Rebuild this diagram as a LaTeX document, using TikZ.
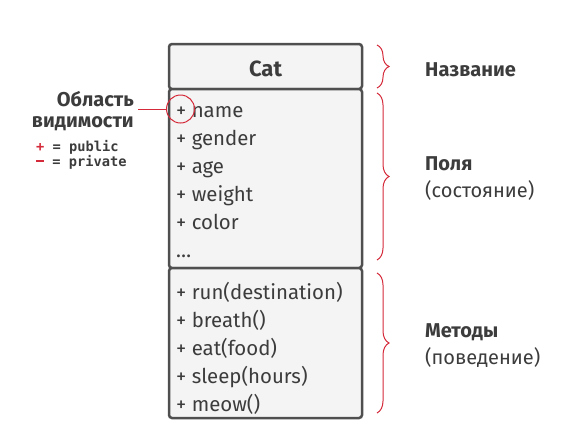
\documentclass[tikz,border=0pt]{standalone}
\usepackage{fontspec}
\setmainfont{Fira Sans}
\newfontfamily\monof{DejaVu Sans Mono}
\usetikzlibrary{decorations.pathreplacing}
\definecolor{boxline}{HTML}{4F4F4F}
\definecolor{boxfill}{HTML}{F4F4F4}
\definecolor{txt}{HTML}{3C3C3C}
\definecolor{accent}{HTML}{D42A3A}
\tikzset{
  section/.style={draw=boxline, fill=boxfill, line width=2.5pt, rounded corners=3pt},
  item/.style={anchor=base west, inner sep=0pt, text=txt, font=\fontsize{20.4}{22}\selectfont},
  label/.style={anchor=base west, inner sep=0pt, text=txt, font=\fontsize{20}{22}\selectfont},
  blabel/.style={anchor=base west, inner sep=0pt, text=txt, font=\fontsize{20}{22}\selectfont\bfseries},
  llabel/.style={anchor=base east, inner sep=0pt, text=txt, font=\fontsize{20}{22}\selectfont\bfseries},
  bracestyle/.style={draw=accent, line width=1pt, decorate, decoration={brace, amplitude=12pt, aspect=0.5}},
  mono/.style={anchor=base west, inner sep=0pt, text=txt, font=\monof\bfseries\fontsize{13.7}{15}\selectfont}
}
\begin{document}
\begin{tikzpicture}[x=1pt,y=-1pt]
\useasboundingbox (0,0) rectangle (583,437);
% class box
\draw[section] (169,44) rectangle (362,89);
\draw[section] (169,89) rectangle (362,268);
\draw[section] (169,268) rectangle (362,418);
\node[anchor=base, inner sep=0pt, text=txt, font=\fontsize{22}{24}\selectfont\bfseries] (title) at (265.5,76) {Cat};
% fields
\node[item] (f1) at (176,117) {+ name};
\node[item] (f2) at (176,145) {+ gender};
\node[item] (f3) at (176,173) {+ age};
\node[item] (f4) at (176,201) {+ weight};
\node[item] (f5) at (176,229) {+ color};
\node[item] (f6) at (176,257) {\ldots};
% methods
\node[item] (m1) at (176,299) {+ run(destination)};
\node[item] (m2) at (176,327) {+ breath()};
\node[item] (m3) at (176,355) {+ eat(food)};
\node[item] (m4) at (176,383) {+ sleep(hours)};
\node[item] (m5) at (176,411) {+ meow()};
% braces
\coordinate (b1t) at (377,45);
\coordinate (b1b) at (377,88);
\coordinate (b2t) at (377,93);
\coordinate (b2b) at (377,260);
\coordinate (b3t) at (377,273);
\coordinate (b3b) at (377,413);
\draw[bracestyle] (b1t) -- (b1b);
\draw[bracestyle] (b2t) -- (b2b);
\draw[bracestyle] (b3t) -- (b3b);
% right labels
\node[blabel] (l1) at (425,76) {Название};
\node[blabel] (l2) at (425,170) {Поля};
\node[label] (l2b) at (425,197) {(состояние)};
\node[blabel] (l3) at (425,337) {Методы};
\node[label] (l3b) at (425,364) {(поведение)};
% visibility
\node[llabel] (v1) at (134,106) {Область};
\node[llabel] (v2) at (134,127) {видимости};
\node[draw=accent, line width=1pt, circle, minimum size=28pt, inner sep=0pt] (circ) at (180.5,109) {};
\coordinate (lstart) at (138,109);
\draw[accent, line width=1pt] (lstart) -- (circ.west);
\node[mono] (pub) at (36,151) {{\color{accent}+} = public};
\node[mono] (priv) at (36,166) {{\color{accent}\rule[3.8pt]{8pt}{1.8pt}} = private};
\end{tikzpicture}
\end{document}
